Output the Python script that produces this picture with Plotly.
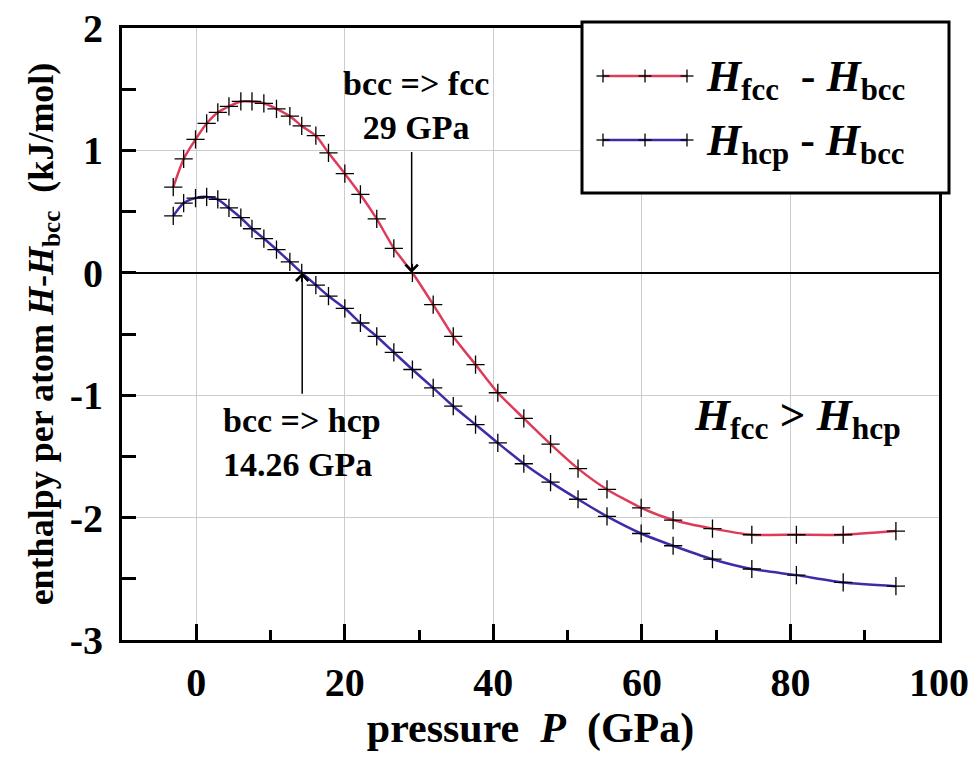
import plotly.graph_objects as go

# ---- data ----
pressure_gpa = [-3.1, -1.7, -0.1, 1.4, 2.9, 4.4, 6.0, 7.5, 9.1, 10.8, 12.6, 14.2, 16.1, 17.8,
                20.0, 22.1, 24.3, 26.6, 29.1, 31.9, 34.6, 37.6, 40.6, 44.1, 47.7, 51.4,
                55.3, 59.9, 64.2, 69.5, 74.8, 80.8, 87.1, 94.2]
h_fcc_minus_bcc = [0.70, 0.93, 1.09, 1.22, 1.31, 1.36, 1.40, 1.40, 1.385, 1.34, 1.28, 1.20,
                   1.12, 0.98, 0.81, 0.64, 0.44, 0.20, 0.0, -0.26, -0.52, -0.75, -0.98,
                   -1.19, -1.40, -1.60, -1.77, -1.92, -2.02, -2.09, -2.14, -2.14, -2.14, -2.11]
h_hcp_minus_bcc = [0.465, 0.57, 0.61, 0.62, 0.60, 0.53, 0.45, 0.36, 0.28, 0.19, 0.09, 0.0,
                   -0.10, -0.19, -0.29, -0.41, -0.52, -0.65, -0.79, -0.94, -1.09, -1.24,
                   -1.39, -1.56, -1.71, -1.85, -1.99, -2.13, -2.23, -2.34, -2.42, -2.47,
                   -2.53, -2.56]
x_tick_vals = [0, 20, 40, 60, 80, 100]
x_tick_text = ["0", "20", "40", "60", "80", "100"]
y_tick_vals = [-3, -2, -1, 0, 1, 2]
y_tick_text = ["-3", "-2", "-1", "0", "1", "2"]
p_bcc_fcc = 29.0
p_bcc_hcp = 14.26

FONT = "Liberation Serif"
RED = "#dc3c5a"
BLUE = "#3c2ca8"
NB = "\u00a0"

fig = go.Figure()
for yv, col in [(h_fcc_minus_bcc, RED), (h_hcp_minus_bcc, BLUE)]:
    fig.add_trace(go.Scatter(
        x=pressure_gpa, y=yv, mode="lines+markers",
        line=dict(color=col, width=2.5, shape="spline", smoothing=0.6),
        marker=dict(symbol="cross-thin", size=13, color="black",
                    line=dict(color="black", width=1.3)),
        showlegend=False, hoverinfo="skip"))

axis_common = dict(
    showline=True, linecolor="black", linewidth=3, mirror=True,
    ticks="inside", tickcolor="black", tickwidth=2.5,
    showgrid=True, gridcolor="#cccccc", gridwidth=1,
    tickfont=dict(family=FONT, size=40, color="black", weight="bold"),
)

fig.update_xaxes(**axis_common, range=[-10, 100], tickmode="array",
                 tickvals=x_tick_vals, ticktext=x_tick_text, ticklen=16,
                 zeroline=False, ticklabelstandoff=5,
                 minor=dict(dtick=10, tick0=0, ticks="inside", ticklen=10,
                            tickwidth=2.5, tickcolor="black", showgrid=False),
                 title=dict(text="pressure" + NB + NB + "<i>P</i>" + NB + NB + "(GPa)",
                            font=dict(family=FONT, size=42, color="black", weight="bold"),
                            standoff=3))
fig.update_yaxes(**axis_common, range=[-3, 2], tickmode="array",
                 tickvals=y_tick_vals, ticktext=y_tick_text, ticklen=14,
                 zeroline=True, zerolinecolor="black", zerolinewidth=1.5,
                 ticklabelstandoff=8,
                 minor=dict(dtick=0.5, tick0=0, ticks="inside", ticklen=14,
                            tickwidth=2.5, tickcolor="black", showgrid=False),
                 title=dict(text="enthalpy per atom <i>H</i>-<i>H</i><sub>bcc</sub>" + NB + NB + "(kJ/mol)",
                            font=dict(family=FONT, size=36, color="black", weight="bold"),
                            standoff=6))

ann_font = dict(family=FONT, size=34, color="black", weight="bold")
# transition arrows
fig.add_annotation(x=p_bcc_fcc, y=0, ax=p_bcc_fcc, ay=1.0, axref="x", ayref="y",
                   xref="x", yref="y", text="", showarrow=True, arrowhead=4,
                   arrowsize=1.6, arrowwidth=1.5, arrowcolor="black", standoff=0)
fig.add_annotation(x=p_bcc_hcp, y=0, ax=p_bcc_hcp, ay=-1.0, axref="x", ayref="y",
                   xref="x", yref="y", text="", showarrow=True, arrowhead=4,
                   arrowsize=1.6, arrowwidth=1.5, arrowcolor="black", standoff=0)
fig.add_annotation(x=29.6, y=1.37, xref="x", yref="y", showarrow=False,
                   text="bcc =&gt; fcc<br>29 GPa", align="center",
                   xanchor="center", yanchor="middle", font=ann_font)
fig.add_annotation(x=3.3, y=-1.39, xref="x", yref="y", showarrow=False,
                   text="bcc =&gt; hcp<br>14.26 GPa", align="left",
                   xanchor="left", yanchor="middle", font=ann_font)
fig.add_annotation(x=81, y=-1.19, xref="x", yref="y", showarrow=False,
                   text="<i>H</i><sub>fcc</sub> &gt; <i>H</i><sub>hcp</sub>",
                   xanchor="center", yanchor="middle",
                   font=dict(family=FONT, size=45, color="black", weight="bold"))

# ---- hand-drawn legend box (paper coordinates) ----
L, R, T, B = 122, 939, 28, 640
def px(xp):
    return (xp - L) / (R - L)
def py(yp):
    return (B - yp) / (B - T)

shapes = [dict(type="rect", xref="paper", yref="paper", x0=px(582), x1=px(949),
               y0=py(193), y1=py(22), line=dict(color="black", width=3),
               fillcolor="white", layer="above")]
legend_rows = [(76, RED, "<i>H</i><sub>fcc</sub>" + NB + NB + "- <i>H</i><sub>bcc</sub>"),
               (140, BLUE, "<i>H</i><sub>hcp</sub> - <i>H</i><sub>bcc</sub>")]
for ry, col, txt in legend_rows:
    shapes.append(dict(type="line", xref="paper", yref="paper", x0=px(603), x1=px(687),
                       y0=py(ry), y1=py(ry), line=dict(color=col, width=2.5), layer="above"))
    for cx in (603, 645, 687):
        shapes.append(dict(type="line", xref="paper", yref="paper", xsizemode="pixel",
                           xanchor=px(cx), x0=-6.5, x1=6.5, y0=py(ry), y1=py(ry),
                           line=dict(color="black", width=1.3), layer="above"))
        shapes.append(dict(type="line", xref="paper", yref="paper", ysizemode="pixel",
                           yanchor=py(ry), y0=-6.5, y1=6.5, x0=px(cx), x1=px(cx),
                           line=dict(color="black", width=1.3), layer="above"))
    fig.add_annotation(x=px(704), y=py(ry + 3), xref="paper", yref="paper",
                       showarrow=False, text=txt, xanchor="left", yanchor="middle",
                       font=dict(family=FONT, size=44, color="black", weight="bold"))

fig.update_layout(
    width=975, height=758,
    margin=dict(l=L, r=975 - R, t=T, b=758 - B, autoexpand=False),
    paper_bgcolor="white", plot_bgcolor="white",
    shapes=shapes,
)

fig.write_html("out.html")
